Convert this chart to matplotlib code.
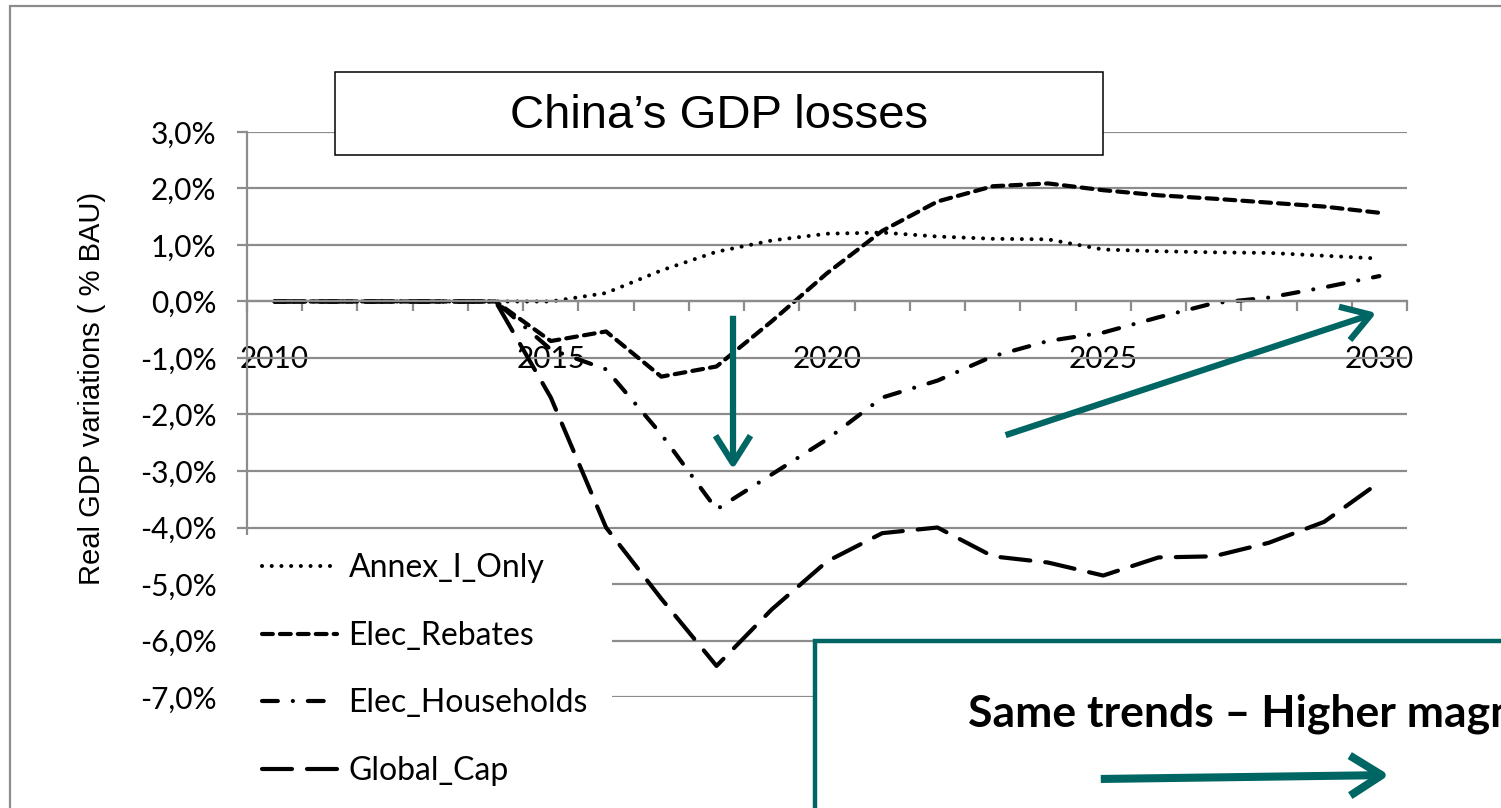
import matplotlib
matplotlib.use("Agg")
import matplotlib.pyplot as plt
from matplotlib.patches import Rectangle, FancyArrowPatch
import numpy as np

# data (% of BAU)
years = list(range(2010, 2031))
annex_i_only = [0, 0, 0, 0, 0, 0.0, 0.15, 0.55, 0.88, 1.08, 1.2, 1.22, 1.15, 1.11, 1.1,
                0.92, 0.89, 0.87, 0.86, 0.81, 0.76]
elec_rebates = [0, 0, 0, 0, 0, -0.7, -0.53, -1.33, -1.15, -0.35, 0.5, 1.25, 1.77, 2.04, 2.09,
                1.97, 1.88, 1.82, 1.75, 1.68, 1.57]
elec_households = [0, 0, 0, 0, 0, -0.85, -1.2, -2.35, -3.68, -3.06, -2.44, -1.7, -1.4, -0.97, -0.7,
                   -0.55, -0.28, -0.03, 0.07, 0.25, 0.45]
global_cap = [0, 0, 0, 0, 0, -1.7, -4.0, -5.26, -6.45, -5.45, -4.6, -4.1, -4.0, -4.51, -4.62,
              -4.85, -4.53, -4.51, -4.27, -3.9, -3.2]
series_names = ["Annex_I_Only", "Elec_Rebates", "Elec_Households", "Global_Cap"]
y_ticks = [3, 2, 1, 0, -1, -2, -3, -4, -5, -6, -7]
x_labels = [2010, 2015, 2020, 2025, 2030]

W, H = 1501, 808
teal = "#006663"
grey = "#8c8c8c"


def fx(px):
    return px / W


def fy(py):
    return 1 - py / H


fig = plt.figure(figsize=(W / 100, H / 100), dpi=100)
fig.patch.set_facecolor("white")
ax = fig.add_axes([fx(247), fy(697), fx(1407) - fx(247), fy(132) - fy(697)])

tick_font = "Lato"

styles = [
    dict(linestyle=(0, (0.01, 2.4)), lw=2.9, dash_capstyle="round"),
    dict(linestyle=(0, (2.6, 1.7)), lw=3.0, dash_capstyle="round"),
    dict(linestyle=(0, (3.8, 3.6, 0.01, 3.6)), lw=3.0, dash_capstyle="round"),
    dict(linestyle=(0, (7.2, 3.6)), lw=3.0, dash_capstyle="round"),
]
all_series = [annex_i_only, elec_rebates, elec_households, global_cap]
handles = []
for name, vals, st in zip(series_names, all_series, styles):
    ln, = ax.plot(years, np.array(vals) / 100, color="black", label=name, zorder=2,
                  solid_capstyle="round", **st)
    handles.append(ln)

ax.set_xlim(2009.5, 2030.5)
ax.set_ylim(-0.07, 0.03)

# y axis
ax.set_yticks([v / 100 for v in y_ticks])
ax.set_yticklabels([f"{v:.1f}%".replace(".", ",") for v in y_ticks], fontsize=21.5,
                   fontfamily=tick_font)
ax.yaxis.grid(True, color=grey, lw=1.6)
ax.set_axisbelow(True)
ax.tick_params(axis="y", length=7, width=1.6, color=grey, pad=15)

# x axis crossing at zero
for s in ["top", "right"]:
    ax.spines[s].set_visible(False)
ax.spines["left"].set_color(grey)
ax.spines["left"].set_linewidth(1.6)
ax.spines["bottom"].set_position(("data", 0))
ax.spines["bottom"].set_color(grey)
ax.spines["bottom"].set_linewidth(1.6)
ax.set_xticks(np.arange(2009.5, 2031, 1))
ax.set_xticklabels([])
ax.set_xticks(x_labels, minor=True)
ax.set_xticklabels([str(x) for x in x_labels], minor=True, fontsize=21.5, fontfamily=tick_font)
ax.tick_params(axis="x", which="major", length=7, width=1.6, color=grey, direction="out")
ax.tick_params(axis="x", which="minor", length=0, pad=31)

fig.text(fx(92), fy(388), "Real GDP variations ( % BAU)", rotation=90, ha="center",
         va="center", fontsize=21, fontfamily="Liberation Sans")

# white area under the legend
ax.add_patch(Rectangle((fx(237), 0), fx(612) - fx(237), fy(535), transform=fig.transFigure,
                       facecolor="white", edgecolor="none", zorder=3, clip_on=False))
leg = ax.legend(handles=handles, loc="upper left", bbox_to_anchor=(fx(262), fy(553)),
                bbox_transform=fig.transFigure, frameon=False, borderpad=0, borderaxespad=0,
                handlelength=2.35, handletextpad=0.36, labelspacing=1.18,
                prop={"family": tick_font, "size": 23})
leg.set_zorder(5)

# outer frame
fig.add_artist(Rectangle((fx(10), fy(830)), fx(1530) - fx(10), fy(6) - fy(830),
                         transform=fig.transFigure, facecolor="none", edgecolor=grey,
                         lw=1.6, zorder=1))

# title box
fig.add_artist(Rectangle((fx(335), fy(155)), fx(1103) - fx(335), fy(72) - fy(155),
                         transform=fig.transFigure, facecolor="white", edgecolor="black",
                         lw=1.1, zorder=4))
fig.text(fx(719), fy(116), "China\u2019s GDP losses", ha="center", va="center",
         fontsize=34, fontfamily="Liberation Sans", zorder=5)

# arrows on the chart
arrow_style = "->,head_length=0.95,head_width=0.6"
fig.add_artist(FancyArrowPatch((fx(733), fy(313)), (fx(733), fy(472)),
                               transform=fig.transFigure, arrowstyle=arrow_style,
                               mutation_scale=21, lw=4.5, color=teal, zorder=4,
                               capstyle="butt", joinstyle="round"))
fig.add_artist(FancyArrowPatch((fx(1003), fy(436)), (fx(1379), fy(312)),
                               transform=fig.transFigure, arrowstyle=arrow_style,
                               mutation_scale=21, lw=4.5, color=teal, zorder=4,
                               capstyle="butt", joinstyle="round"))

# teal message box (runs off the right edge, as in the original)
fig.add_artist(Rectangle((fx(815), fy(840)), fx(1540) - fx(815), fy(641) - fy(840),
                         transform=fig.transFigure, facecolor="white", edgecolor=teal,
                         lw=3.2, zorder=6))
fig.text(fx(968), fy(727), "Same trends \u2013 Higher magnitude", ha="left", va="baseline",
         fontsize=32, fontweight="bold", fontfamily="Lato", zorder=7)
fig.add_artist(FancyArrowPatch((fx(1098), fy(779)), (fx(1392), fy(775)),
                               transform=fig.transFigure, arrowstyle=arrow_style,
                               mutation_scale=24, lw=5.8, color=teal, zorder=7,
                               capstyle="butt", joinstyle="round"))

fig.savefig("out.png", dpi=100)
